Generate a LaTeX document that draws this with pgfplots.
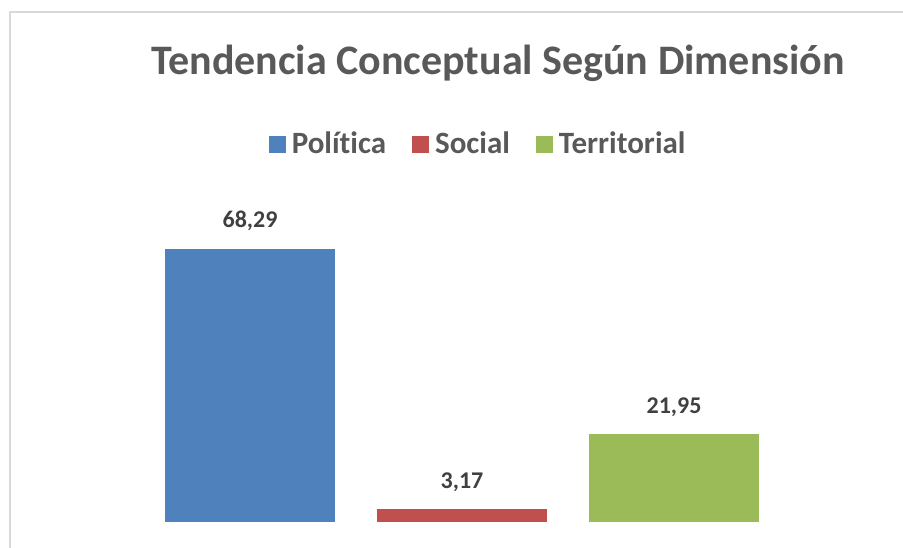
\documentclass[border=0pt]{standalone}
\usepackage{pgfplots}
\pgfplotsset{compat=1.18}
\usepackage{fontspec}
\setmainfont[Ligatures=NoCommon]{Carlito}
\definecolor{cblue}{HTML}{4F81BD}
\definecolor{cred}{HTML}{C0504D}
\definecolor{cgreen}{HTML}{9BBB59}
\definecolor{ctitle}{HTML}{595959}
\definecolor{clabel}{HTML}{404040}
\definecolor{cframe}{HTML}{D9D9D9}
\begin{document}
\begin{tikzpicture}
\useasboundingbox (0,0) rectangle (451.5pt,273.5pt);
\draw[cframe, line width=1pt] (5pt,-10pt) -- (5pt,267.5pt) -- (470pt,267.5pt);
\node[anchor=base, font=\fontsize{21}{25}\selectfont\bfseries, text=ctitle, inner sep=0pt] at (249pt,236pt) {Tendencia Conceptual Según Dimensión};
\begin{axis}[
  at={(72pt,12.5pt)}, anchor=south west,
  scale only axis, width=318pt, height=160pt,
  xmin=-0.5, xmax=2.5, ymin=0, ymax=80,
  hide axis,
  ybar, bar width=85pt, bar shift=0pt,
  nodes near coords,
  /pgf/number format/assume math mode=true,
  /pgf/number format/.cd, use comma, fixed, fixed zerofill, precision=2, /pgfplots/.cd,
  every node near coord/.append style={anchor=base, yshift=10.5pt, inner sep=0pt,
    font=\fontsize{12}{14}\selectfont\bfseries, text=clabel},
  legend columns=3,
  legend style={draw=none, fill=none, at={(0.527,1.180)}, anchor=center,
    font=\fontsize{15.5}{18}\selectfont\bfseries, text=ctitle,
    /tikz/every odd column/.append style={column sep=1pt},
    /tikz/every even column/.append style={column sep=11pt}},
  legend cell align=left,
]
\addplot[fill=cblue, draw=none, legend image code/.code={\fill[cblue] (0pt,-4.25pt) rectangle (8.5pt,4.25pt);}] coordinates {(0,68.29)};
\addplot[fill=cred, draw=none, legend image code/.code={\fill[cred] (0pt,-4.25pt) rectangle (8.5pt,4.25pt);}] coordinates {(1,3.17)};
\addplot[fill=cgreen, draw=none, legend image code/.code={\fill[cgreen] (0pt,-4.25pt) rectangle (8.5pt,4.25pt);}] coordinates {(2,21.95)};
\legend{Política, Social, Territorial}
\end{axis}
\end{tikzpicture}
\end{document}
